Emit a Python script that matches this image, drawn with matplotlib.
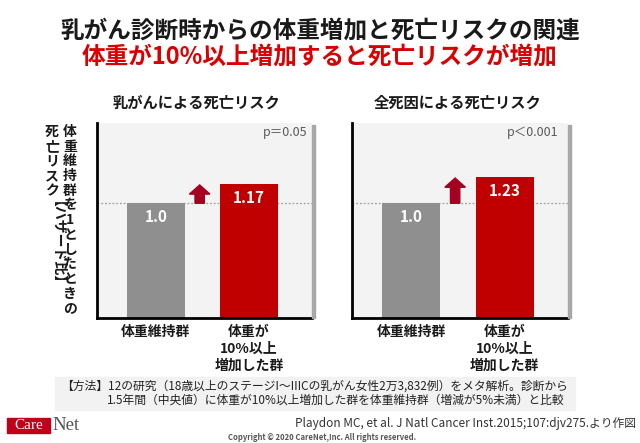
import matplotlib
matplotlib.use('Agg')
import matplotlib.pyplot as plt
from matplotlib.patches import Rectangle

plt.rcParams['font.family'] = ['Noto Sans CJK JP', 'DejaVu Sans']

W, H = 640, 443

# data
groups = ['体重維持群', '体重が\n10%以上\n増加した群']
panel_titles = ['乳がんによる死亡リスク', '全死因による死亡リスク']
hazard = [[1.0, 1.17], [1.0, 1.23]]
value_labels = [['1.0', '1.17'], ['1.0', '1.23']]
p_values = ['p＝0.05', 'p＜0.001']
bar_colors = ['#8f8f8f', '#c00000']

title = '乳がん診断時からの体重増加と死亡リスクの関連'
subtitle = '体重が10%以上増加すると死亡リスクが増加'
ylabel_right = '体重維持群を1としたときの'
ylabel_left = '死亡リスク'
ylabel_left_rot = '【ハザード比】'
method1 = '【方法】12の研究（18歳以上のステージI～IIICの乳がん女性2万3,832例）をメタ解析。診断から'
method2 = '1.5年間（中央値）に体重が10%以上増加した群を体重維持群（増減が5%未満）と比較'
source = 'Playdon MC, et al. J Natl Cancer Inst.2015;107:djv275.より作図'
copyright_txt = 'Copyright © 2020 CareNet,Inc. All rights reserved.'


def fx(x):
    return x / W


def fy(y):
    return 1 - y / H


fig = plt.figure(figsize=(W / 100, H / 100), dpi=100)

fig.text(fx(320), fy(30), title, ha='center', va='center', fontsize=17, fontweight='bold', color='#1a1a1a')
fig.text(fx(320), fy(57), subtitle, ha='center', va='center', fontsize=17, fontweight='bold', color='#d80000')

# axes pixel boxes: left, right, top, bottom
boxes = [(97, 312, 123, 318), (352, 568, 123, 318)]
title_x = [196, 458]
p_x = [0.977, 0.958]

for k, (l, r, t, b) in enumerate(boxes):
    # shadow on the right edge
    fig.patches.append(Rectangle((fx(r), fy(b)), 3 / W, (b - t - 2) / H, transform=fig.transFigure,
                                 color='#a8a8a8', zorder=0))
    ax = fig.add_axes([fx(l), fy(b), (r - l) / W, (b - t) / H])
    ax.set_facecolor('#f3f3f3')
    x = [0, 1]
    ax.bar(x, hazard[k], width=0.62, color=bar_colors, zorder=2)
    ax.axhline(1.0, color='#a0a0a0', lw=0.9, ls=(0, (1.5, 1.5)), zorder=1)
    ax.set_xlim(-0.634, 1.678)
    ax.set_ylim(0, 1.7)
    for i in range(2):
        ax.text(x[i], hazard[k][i] - 0.12, value_labels[k][i], ha='center', va='center',
                color='white', fontsize=11, fontweight='bold', zorder=3)
    # up arrow between the bars
    ax.arrow(0.47, 1.0, 0, hazard[k][1] - 1.0 - 0.01, width=0.1, head_width=0.22, head_length=0.08,
             length_includes_head=True, color='#a50021', zorder=3)
    ax.text(p_x[k], 0.95, p_values[k], transform=ax.transAxes, ha='right', va='center',
            fontsize=9, color='#595959')
    for s in ['top', 'right']:
        ax.spines[s].set_visible(False)
    for s in ['left', 'bottom']:
        ax.spines[s].set_linewidth(2)
        ax.spines[s].set_color('black')
    ax.set_xticks([])
    ax.set_yticks([])
    fig.text(fx(title_x[k]), fy(103), panel_titles[k], ha='center', va='center',
             fontsize=11, fontweight='bold', color='#1a1a1a')
    # category labels
    for i in range(2):
        xd = ax.transData.transform((x[i], 0))[0]
        xf = fig.transFigure.inverted().transform((xd, 0))[0]
        fig.text(xf, fy(325), groups[i], ha='center', va='top', fontsize=10, fontweight='bold',
                 color='#1a1a1a', linespacing=1.25)

# vertical y label
for i, ch in enumerate(ylabel_right):
    fig.text(fx(70), fy(132 + 14.7 * i), ch, ha='center', va='center', fontsize=10,
             fontweight='bold', color='#1a1a1a')
for i, ch in enumerate(ylabel_left):
    fig.text(fx(52), fy(132 + 14.7 * i), ch, ha='center', va='center', fontsize=10,
             fontweight='bold', color='#1a1a1a')
fig.text(fx(50), fy(201), ylabel_left_rot, ha='left', va='center', rotation=-90,
         rotation_mode='anchor', fontsize=10, fontweight='bold', color='#1a1a1a')

# methods box
fig.patches.append(Rectangle((fx(55), fy(410)), 520 / W, 33 / H, transform=fig.transFigure,
                             color='#f2f2f2', zorder=0))
fig.text(fx(61), fy(386), method1, ha='left', va='center', fontsize=8.5, color='#222222')
fig.text(fx(107), fy(400), method2, ha='left', va='center', fontsize=8.5, color='#222222')

fig.text(fx(636), fy(423), source, ha='right', va='center', fontsize=8.5, color='#333333')
fig.text(fx(322), fy(437), copyright_txt, ha='center', va='center', fontsize=5.5,
         fontweight='bold', color='#555555')

# logo
fig.patches.append(Rectangle((fx(7), fy(433)), 43 / W, 15 / H, transform=fig.transFigure,
                             color='#c0001a', zorder=0))
fig.text(fx(28.5), fy(425.5), 'Care', ha='center', va='center', fontsize=11,
         family='Liberation Serif', color='white')
fig.text(fx(52), fy(425), 'Net', ha='left', va='center', fontsize=13.5,
         family='Liberation Serif', color='#555555')

fig.savefig('out.png', dpi=100)
